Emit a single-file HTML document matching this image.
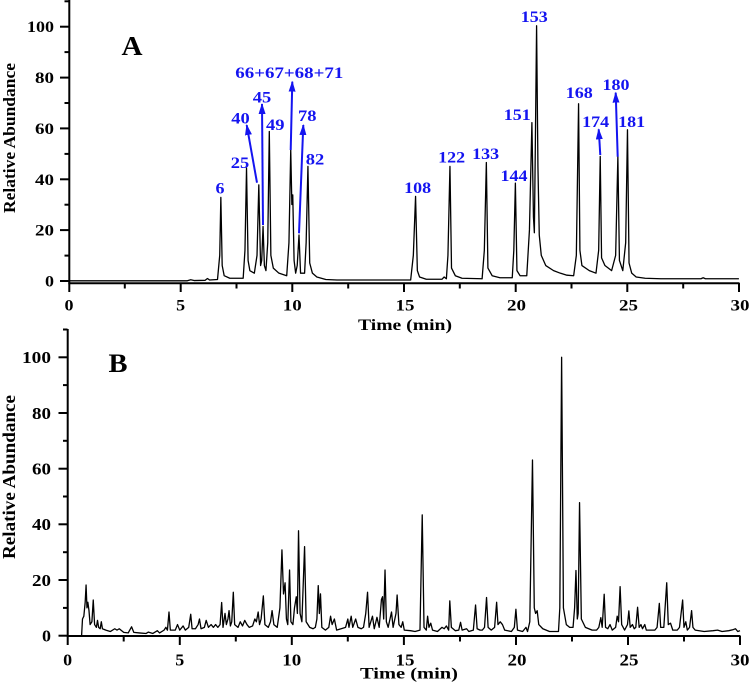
<!DOCTYPE html>
<html>
<head>
<meta charset="utf-8">
<style>
html,body{margin:0;padding:0;background:#fff;}
svg{display:block;}
svg text{font-family:"Liberation Serif","Times New Roman",Times,serif;font-weight:bold;}
</style>
</head>
<body>
<svg width="751" height="686" viewBox="0 0 751 686" xmlns="http://www.w3.org/2000/svg" font-family="Liberation Serif, Times New Roman, Times, serif" font-weight="bold">
<defs>
<marker id="ah" markerWidth="11" markerHeight="7" refX="10" refY="3.5" orient="auto" markerUnits="userSpaceOnUse">
<path d="M0,0 L11,3.5 L0,7 z" fill="#1414f0"/>
</marker>
</defs>

<!-- ================= PANEL A ================= -->
<g stroke="#000" stroke-width="2" fill="none">
<line x1="69.3" y1="0" x2="69.3" y2="292"/>
<line x1="68.3" y1="283.3" x2="739.5" y2="283.3"/>
<line x1="60" y1="281" x2="69" y2="281"/>
<line x1="60" y1="230.1" x2="69" y2="230.1"/>
<line x1="60" y1="179.3" x2="69" y2="179.3"/>
<line x1="60" y1="128.4" x2="69" y2="128.4"/>
<line x1="60" y1="77.6" x2="69" y2="77.6"/>
<line x1="60" y1="26.7" x2="69" y2="26.7"/>
<line x1="64.5" y1="255.6" x2="69" y2="255.6"/>
<line x1="64.5" y1="204.7" x2="69" y2="204.7"/>
<line x1="64.5" y1="153.9" x2="69" y2="153.9"/>
<line x1="64.5" y1="103" x2="69" y2="103"/>
<line x1="64.5" y1="52.1" x2="69" y2="52.1"/>
<line x1="64.5" y1="1.3" x2="69" y2="1.3"/>
<line x1="180.7" y1="283" x2="180.7" y2="292"/>
<line x1="292.3" y1="283" x2="292.3" y2="292"/>
<line x1="404" y1="283" x2="404" y2="292"/>
<line x1="515.7" y1="283" x2="515.7" y2="292"/>
<line x1="627.3" y1="283" x2="627.3" y2="292"/>
<line x1="739" y1="283" x2="739" y2="292"/>
<line x1="124.8" y1="283" x2="124.8" y2="288.5"/>
<line x1="236.5" y1="283" x2="236.5" y2="288.5"/>
<line x1="348.2" y1="283" x2="348.2" y2="288.5"/>
<line x1="459.8" y1="283" x2="459.8" y2="288.5"/>
<line x1="571.5" y1="283" x2="571.5" y2="288.5"/>
<line x1="683.2" y1="283" x2="683.2" y2="288.5"/>
</g>

<g transform="translate(69,280.8) scale(22.33,-2.543)">
<path vector-effect="non-scaling-stroke" fill="none" stroke="#000" stroke-width="1.3" stroke-linejoin="round"
d="M0,0 L5.3,0 L5.45,0.4 L5.6,0.1 L6.1,0.2 L6.2,0.9 L6.3,0.3 L6.65,0.5 L6.75,10 L6.8,32.8 L6.86,6 L6.95,2 L7.2,1 L7.8,1 L7.88,12 L7.95,44.3 L8.02,8 L8.1,4 L8.3,3 L8.42,10 L8.5,37.7 L8.58,6 L8.63,8 L8.69,21.4 L8.75,6 L8.82,4 L8.9,15 L8.97,58.7 L9.04,10 L9.15,5 L9.4,3 L9.75,2 L9.85,15 L9.93,51.5 L9.98,30 L10.02,33.8 L10.08,8 L10.15,3 L10.22,6 L10.3,18 L10.37,3 L10.55,3 L10.62,15 L10.7,45 L10.78,7 L10.9,3 L11.1,1.5 L11.5,0.5 L12,0.3 L15.3,0.3 L15.42,10 L15.52,33.2 L15.6,4 L15.7,1.5 L16,0.6 L16.7,0.6 L16.8,1.5 L16.9,0.8 L16.97,10 L17.06,45 L17.13,5 L17.3,2 L17.6,1 L18.5,0.8 L18.6,12 L18.69,46.5 L18.76,5 L18.95,2 L19.3,1.2 L19.85,1.2 L19.92,12 L19.99,38.4 L20.06,4 L20.2,2 L20.5,2 L20.62,20 L20.73,62.2 L20.8,25 L20.84,18.9 L20.88,50 L20.94,100.3 L21.0,45 L21.06,18 L21.15,10 L21.35,6 L21.7,4 L22,3 L22.3,2.2 L22.6,2 L22.72,10 L22.82,69.6 L22.88,12 L22.97,6 L23.3,4 L23.6,3 L23.72,12 L23.79,48.9 L23.85,9 L24,6 L24.3,4 L24.48,10 L24.58,48.9 L24.65,8 L24.8,4 L24.93,15 L25.01,59.4 L25.08,7 L25.2,3 L25.4,1.5 L25.8,1 L26.5,0.8 L28.3,0.8 L28.4,1.2 L28.5,0.8 L30,0.8"/>
</g>

<g font-size="16" fill="#000" text-anchor="end">
<text x="54" y="286.5" textLength="9" lengthAdjust="spacingAndGlyphs">0</text>
<text x="54" y="235.6" textLength="19" lengthAdjust="spacingAndGlyphs">20</text>
<text x="54" y="184.8" textLength="19" lengthAdjust="spacingAndGlyphs">40</text>
<text x="54" y="133.9" textLength="19" lengthAdjust="spacingAndGlyphs">60</text>
<text x="54" y="83.1" textLength="19" lengthAdjust="spacingAndGlyphs">80</text>
<text x="54" y="32.2" textLength="27" lengthAdjust="spacingAndGlyphs">100</text>
</g>
<g font-size="16" fill="#000" text-anchor="middle">
<text x="69" y="310.5" textLength="9" lengthAdjust="spacingAndGlyphs">0</text>
<text x="180.7" y="310.5" textLength="9" lengthAdjust="spacingAndGlyphs">5</text>
<text x="292.3" y="310.5" textLength="19" lengthAdjust="spacingAndGlyphs">10</text>
<text x="405" y="310.5" textLength="19" lengthAdjust="spacingAndGlyphs">15</text>
<text x="516.5" y="310.5" textLength="19" lengthAdjust="spacingAndGlyphs">20</text>
<text x="628.5" y="310.5" textLength="19" lengthAdjust="spacingAndGlyphs">25</text>
<text x="740" y="310.5" textLength="19" lengthAdjust="spacingAndGlyphs">30</text>
<text x="405" y="330" font-size="15.5" textLength="94" lengthAdjust="spacingAndGlyphs">Time (min)</text>
</g>
<text transform="translate(15,138) rotate(-90)" font-size="17" text-anchor="middle" textLength="150" lengthAdjust="spacingAndGlyphs">Relative Abundance</text>
<text x="132" y="55" font-size="27" text-anchor="middle" textLength="21" lengthAdjust="spacingAndGlyphs">A</text>

<g stroke="#1414f0" stroke-width="2" fill="none" marker-end="url(#ah)">
<line x1="257" y1="182.7" x2="246.7" y2="125"/>
<line x1="263" y1="225" x2="262" y2="104"/>
<line x1="290.7" y1="150" x2="292.3" y2="81.7"/>
<line x1="299" y1="233.3" x2="303.3" y2="125"/>
<line x1="600.3" y1="155" x2="598.7" y2="129.3"/>
<line x1="617.7" y1="156.7" x2="615.7" y2="92.7"/>
</g>

<g font-size="15.5" fill="#1414f0" text-anchor="middle">
<text x="220" y="193.5" textLength="9" lengthAdjust="spacingAndGlyphs">6</text>
<text x="240" y="168" textLength="18.5" lengthAdjust="spacingAndGlyphs">25</text>
<text x="240.5" y="123.5" textLength="18.5" lengthAdjust="spacingAndGlyphs">40</text>
<text x="262" y="102.5" textLength="18.5" lengthAdjust="spacingAndGlyphs">45</text>
<text x="275.3" y="130" textLength="18.5" lengthAdjust="spacingAndGlyphs">49</text>
<text x="289.3" y="78" textLength="108" lengthAdjust="spacingAndGlyphs">66+67+68+71</text>
<text x="307.3" y="121" textLength="18.5" lengthAdjust="spacingAndGlyphs">78</text>
<text x="315" y="164.5" textLength="18.5" lengthAdjust="spacingAndGlyphs">82</text>
<text x="417.7" y="193" textLength="27" lengthAdjust="spacingAndGlyphs">108</text>
<text x="451.7" y="162.5" textLength="27" lengthAdjust="spacingAndGlyphs">122</text>
<text x="485.7" y="159" textLength="27" lengthAdjust="spacingAndGlyphs">133</text>
<text x="514" y="181" textLength="27" lengthAdjust="spacingAndGlyphs">144</text>
<text x="517.3" y="120" textLength="27" lengthAdjust="spacingAndGlyphs">151</text>
<text x="534.3" y="22" textLength="27" lengthAdjust="spacingAndGlyphs">153</text>
<text x="579.3" y="98" textLength="27" lengthAdjust="spacingAndGlyphs">168</text>
<text x="595.7" y="127" textLength="27" lengthAdjust="spacingAndGlyphs">174</text>
<text x="616" y="90" textLength="27" lengthAdjust="spacingAndGlyphs">180</text>
<text x="631.7" y="127" textLength="27" lengthAdjust="spacingAndGlyphs">181</text>
</g>

<!-- ================= PANEL B ================= -->
<g stroke="#000" stroke-width="2" fill="none">
<line x1="67.7" y1="329" x2="67.7" y2="645"/>
<line x1="66.7" y1="636" x2="740.5" y2="636"/>
<line x1="58.5" y1="635.7" x2="67.5" y2="635.7"/>
<line x1="58.5" y1="580" x2="67.5" y2="580"/>
<line x1="58.5" y1="524.3" x2="67.5" y2="524.3"/>
<line x1="58.5" y1="468.7" x2="67.5" y2="468.7"/>
<line x1="58.5" y1="413" x2="67.5" y2="413"/>
<line x1="58.5" y1="357.3" x2="67.5" y2="357.3"/>
<line x1="63" y1="607.9" x2="67.5" y2="607.9"/>
<line x1="63" y1="552.2" x2="67.5" y2="552.2"/>
<line x1="63" y1="496.5" x2="67.5" y2="496.5"/>
<line x1="63" y1="440.8" x2="67.5" y2="440.8"/>
<line x1="63" y1="385.1" x2="67.5" y2="385.1"/>
<line x1="63" y1="329.5" x2="67.5" y2="329.5"/>
<line x1="179.8" y1="636" x2="179.8" y2="645"/>
<line x1="291.8" y1="636" x2="291.8" y2="645"/>
<line x1="403.9" y1="636" x2="403.9" y2="645"/>
<line x1="516" y1="636" x2="516" y2="645"/>
<line x1="628" y1="636" x2="628" y2="645"/>
<line x1="740" y1="636" x2="740" y2="645"/>
<line x1="123.7" y1="636" x2="123.7" y2="641.5"/>
<line x1="235.8" y1="636" x2="235.8" y2="641.5"/>
<line x1="347.8" y1="636" x2="347.8" y2="641.5"/>
<line x1="460" y1="636" x2="460" y2="641.5"/>
<line x1="572" y1="636" x2="572" y2="641.5"/>
<line x1="684" y1="636" x2="684" y2="641.5"/>
</g>

<g transform="translate(67.7,635.7) scale(22.41,-2.784)">
<path vector-effect="non-scaling-stroke" fill="none" stroke="#000" stroke-width="1.3" stroke-linejoin="round"
d="M0,0 L0.62,0 L0.66,6 L0.72,7 L0.78,12 L0.82,18.2 L0.86,10 L0.9,12 L0.95,9 L1.0,4 L1.08,5 L1.14,12.8 L1.2,4 L1.28,3 L1.33,5.5 L1.38,3 L1.45,2.5 L1.5,5 L1.55,2.5 L1.7,2 L1.9,1.5 L2.1,2.5 L2.2,2 L2.3,2.5 L2.5,1.2 L2.7,1 L2.85,3.2 L2.95,1.2 L3.2,1 L3.5,0.8 L3.6,1.3 L3.8,0.8 L4.0,1.8 L4.1,1 L4.3,2 L4.38,3 L4.45,2 L4.52,8.5 L4.58,2 L4.8,2 L4.9,4 L5.0,2 L5.15,3.5 L5.25,2 L5.4,3 L5.49,7.7 L5.55,2.5 L5.7,2.5 L5.82,4 L5.88,6 L5.95,2.5 L6.1,3 L6.18,5.5 L6.28,3 L6.4,4 L6.5,3 L6.6,4 L6.7,3 L6.8,4 L6.87,11.9 L6.93,3 L7.02,8 L7.08,4 L7.15,6 L7.2,9 L7.26,3.5 L7.32,5 L7.39,15.6 L7.45,4 L7.6,3 L7.7,5 L7.8,3.5 L7.9,5.5 L8.0,4 L8.1,3 L8.25,3.5 L8.35,6 L8.42,5 L8.5,8.5 L8.56,4 L8.63,6 L8.73,14.3 L8.8,4 L8.95,3 L9.05,5 L9.12,9 L9.2,4 L9.35,3 L9.47,10 L9.56,30.8 L9.63,15 L9.7,19 L9.76,6 L9.82,4 L9.9,23.6 L9.96,5 L10.05,4 L10.12,10 L10.2,14 L10.25,8 L10.3,37.7 L10.37,8 L10.45,5 L10.57,32 L10.64,5 L10.8,3 L10.95,2.5 L11.05,3 L11.12,6 L11.18,18 L11.23,8 L11.28,15 L11.34,3 L11.5,2 L11.65,3 L11.73,7 L11.8,4 L11.9,6 L12.0,2 L12.2,2.5 L12.4,3 L12.5,6 L12.55,3 L12.65,7 L12.72,3 L12.85,6 L12.95,3 L13.1,2.5 L13.2,3 L13.3,8 L13.38,15.6 L13.45,3 L13.6,7 L13.68,2.5 L13.8,6.6 L13.9,3 L14.0,13 L14.05,14 L14.1,6 L14.16,23.6 L14.22,5 L14.3,3 L14.45,8.5 L14.52,3 L14.65,8 L14.7,14.6 L14.78,4 L14.88,3 L14.95,5 L15.02,2 L15.3,1.8 L15.5,1.5 L15.72,2 L15.82,43.4 L15.9,3 L16.0,2 L16.06,7 L16.12,3 L16.2,4.5 L16.28,2 L16.5,1.5 L16.7,3 L16.8,2.5 L16.9,3.5 L17.0,2 L17.05,12.5 L17.12,3 L17.3,1.8 L17.45,2 L17.53,4.8 L17.6,2 L17.8,2.5 L17.9,1.5 L18.1,2 L18.2,11 L18.27,2.5 L18.4,2 L18.5,2 L18.6,3 L18.69,13.7 L18.76,3 L18.9,2 L19.05,3 L19.14,12 L19.2,4 L19.3,5 L19.4,4 L19.5,2 L19.8,1.5 L19.93,3 L20.0,9.5 L20.07,2 L20.3,1.5 L20.45,3 L20.52,1.5 L20.62,5 L20.74,63.1 L20.82,10 L20.88,8 L20.95,9 L21.02,4 L21.2,2.5 L21.5,1.5 L21.9,1.5 L21.96,10 L22.04,100 L22.12,10 L22.25,4 L22.4,3 L22.55,3 L22.62,10 L22.68,23.4 L22.74,6 L22.78,8 L22.84,47.8 L22.92,6 L23.1,3 L23.4,2 L23.6,2 L23.7,3 L23.79,6.5 L23.85,3 L23.94,14.9 L24.0,3 L24.1,2.5 L24.2,4 L24.3,2 L24.45,3 L24.52,7 L24.58,5 L24.65,17.6 L24.72,4 L24.85,2 L24.98,4 L25.04,8.9 L25.1,3 L25.2,4 L25.28,2.5 L25.35,3 L25.43,10.2 L25.5,3 L25.58,4 L25.65,2.5 L25.75,4 L25.82,2 L26.0,2 L26.2,2 L26.3,3 L26.4,11.6 L26.46,3 L26.6,3 L26.73,19 L26.8,4 L26.9,4.5 L27.0,2 L27.2,2 L27.3,3 L27.44,12.8 L27.5,3 L27.58,5 L27.65,2 L27.75,3 L27.84,9 L27.9,3 L28.0,2 L28.4,1.5 L28.8,1.8 L29.0,2 L29.2,1.5 L29.5,1.8 L29.7,2.2 L29.8,2.5 L29.9,1.5 L30,1.8"/>
</g>

<g font-size="16.5" fill="#000" text-anchor="end">
<text x="51" y="641.5" textLength="9" lengthAdjust="spacingAndGlyphs">0</text>
<text x="51" y="585.8" textLength="19" lengthAdjust="spacingAndGlyphs">20</text>
<text x="51" y="530.1" textLength="19" lengthAdjust="spacingAndGlyphs">40</text>
<text x="51" y="474.5" textLength="19" lengthAdjust="spacingAndGlyphs">60</text>
<text x="51" y="418.8" textLength="19" lengthAdjust="spacingAndGlyphs">80</text>
<text x="51" y="363.1" textLength="29" lengthAdjust="spacingAndGlyphs">100</text>
</g>
<g font-size="16.5" fill="#000" text-anchor="middle">
<text x="67.7" y="665.5" textLength="9" lengthAdjust="spacingAndGlyphs">0</text>
<text x="179.8" y="665.5" textLength="9" lengthAdjust="spacingAndGlyphs">5</text>
<text x="291.8" y="665.5" textLength="19" lengthAdjust="spacingAndGlyphs">10</text>
<text x="405" y="665.5" textLength="19" lengthAdjust="spacingAndGlyphs">15</text>
<text x="517" y="665.5" textLength="19" lengthAdjust="spacingAndGlyphs">20</text>
<text x="629" y="665.5" textLength="19" lengthAdjust="spacingAndGlyphs">25</text>
<text x="740" y="665.5" textLength="19" lengthAdjust="spacingAndGlyphs">30</text>
<text x="409" y="678.5" font-size="16" textLength="98" lengthAdjust="spacingAndGlyphs">Time (min)</text>
</g>
<text transform="translate(15,477) rotate(-90)" font-size="18" text-anchor="middle" textLength="164" lengthAdjust="spacingAndGlyphs">Relative Abundance</text>
<text x="118" y="372" font-size="26" text-anchor="middle" textLength="19" lengthAdjust="spacingAndGlyphs">B</text>
</svg>
</body>
</html>
